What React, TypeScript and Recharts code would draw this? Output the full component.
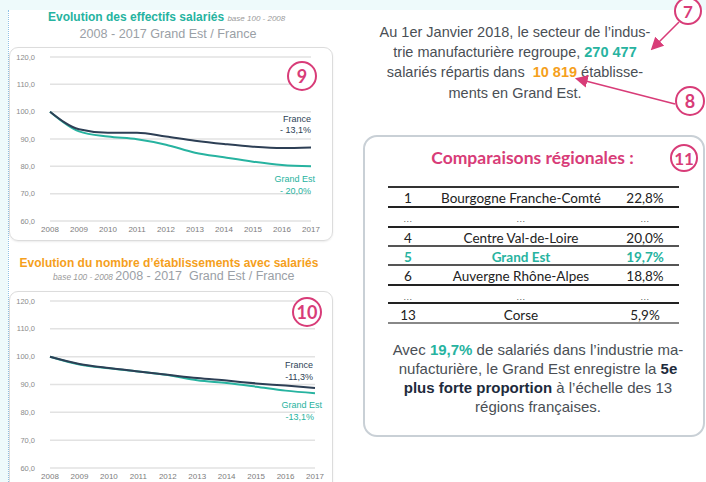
import React from "react";
import { CartesianGrid, Line, LineChart, XAxis, YAxis } from "recharts";

const years = ["2008", "2009", "2010", "2011", "2012", "2013", "2014", "2015", "2016", "2017"];
const yTicks = [60, 70, 80, 90, 100, 110, 120];

// base 100 - 2008
const effectifsFrance = [100, 93.6, 92.3, 92.3, 90.9, 89.4, 88.2, 87.2, 86.7, 86.9];
const effectifsGrandEst = [100, 92.8, 90.9, 89.9, 87.9, 85.0, 83.3, 81.7, 80.5, 80.0];
const etabFrance = [100, 97.4, 95.9, 94.7, 93.5, 92.3, 91.4, 90.4, 89.6, 88.7];
const etabGrandEst = [100, 97.2, 95.8, 94.7, 93.4, 91.5, 90.5, 89.2, 87.8, 86.9];

const ranks = ["1", "...", "4", "5", "6", "...", "13"];
const regions = [
  "Bourgogne Franche-Comté",
  "...",
  "Centre Val-de-Loire",
  "Grand Est",
  "Auvergne Rhône-Alpes",
  "...",
  "Corse",
];
const shares = ["22,8%", "...", "20,0%", "19,7%", "18,8%", "...", "5,9%"];

const TEAL = "#27b3a0";
const NAVY = "#2d3f55";
const ORANGE = "#f5a01c";
const PINK = "#d83c78";
const GREY_TXT = "#4a4f55";
const ARIAL = '"Liberation Sans", Arial, sans-serif';
const CALIBRI = 'Lato, "Open Sans", sans-serif';

const fmt = (v: number) => v.toFixed(1).replace(".", ",");

function TrendChart({
  top,
  height,
  width,
  margin,
  france,
  grandEst,
}: {
  top: number;
  height: number;
  width: number;
  margin: { top: number; right: number; bottom: number; left: number };
  france: number[];
  grandEst: number[];
}) {
  const data = years.map((y, i) => ({ year: y, france: france[i], grandEst: grandEst[i] }));
  return (
    <div style={{ position: "absolute", left: 0, top }}>
      <LineChart width={width} height={height} data={data} margin={margin}>
        <CartesianGrid vertical={false} stroke="#e2e2e2" strokeWidth={1.5} />
        <XAxis
          dataKey="year"
          axisLine={false}
          tickLine={false}
          tickSize={0}
          tickMargin={5}
          height={14}
          interval={0}
          tick={{ fill: "#7d7d7d", fontSize: 8, fontFamily: ARIAL }}
        />
        <YAxis
          domain={[60, 120]}
          ticks={yTicks}
          width={40}
          axisLine={false}
          tickLine={false}
          tickSize={0}
          tickMargin={15}
          tickFormatter={fmt}
          tick={{ fill: "#8a8a8a", fontSize: 7.5, fontFamily: ARIAL }}
        />
        <Line type="monotone" dataKey="grandEst" stroke={TEAL} strokeWidth={2} dot={false} isAnimationActive={false} />
        <Line type="monotone" dataKey="france" stroke={NAVY} strokeWidth={2} dot={false} isAnimationActive={false} />
      </LineChart>
    </div>
  );
}

function Badge({ x, y, r, label, size }: { x: number; y: number; r: number; label: string; size: number }) {
  return (
    <div
      style={{
        position: "absolute",
        left: x - r,
        top: y - r,
        width: r * 2 - 4,
        height: r * 2 - 4,
        border: `2px solid ${PINK}`,
        borderRadius: "50%",
        background: "#fff",
        color: PINK,
        fontFamily: CALIBRI,
        fontWeight: 700,
        fontSize: size,
        display: "flex",
        alignItems: "center",
        justifyContent: "center",
        lineHeight: 1,
      }}
    >
      {label}
    </div>
  );
}

function Abs({
  x,
  y,
  w,
  align = "left",
  style,
  children,
}: {
  x: number;
  y: number;
  w: number;
  align?: "left" | "center" | "right";
  style?: React.CSSProperties;
  children: React.ReactNode;
}) {
  return (
    <div
      style={{
        position: "absolute",
        left: x,
        top: y,
        width: w,
        textAlign: align,
        whiteSpace: "nowrap",
        fontFamily: ARIAL,
        ...style,
      }}
    >
      {children}
    </div>
  );
}

// table line positions (y) and thickness
const tableLines = [
  { y: 187, w: 1.5, c: "#333" },
  { y: 207, w: 2.5, c: "#222" },
  { y: 227, w: 2.5, c: "#222" },
  { y: 246, w: 1.5, c: "#555" },
  { y: 265, w: 1.5, c: "#555" },
  { y: 285, w: 2.5, c: "#222" },
  { y: 303, w: 2.5, c: "#222" },
  { y: 323, w: 1.5, c: "#888" },
];
const rowCenters = [198, 219, 238, 257, 276, 297, 315];

export default function App() {
  return (
    <div
      style={{
        position: "absolute",
        left: 0,
        top: 0,
        width: 706,
        height: 482,
        overflow: "hidden",
        background: "#fff",
        fontFamily: ARIAL,
      }}
    >
      {/* light background strips */}
      <div style={{ position: "absolute", left: 0, top: 0, width: 706, height: 10, background: "#eefafb" }} />
      <div style={{ position: "absolute", left: 0, top: 0, width: 8, height: 482, background: "#eefafb" }} />
      <div
        style={{ position: "absolute", left: 8, top: 10, width: 0, height: 472, borderLeft: "1px dotted #8fc3e6" }}
      />

      {/* chart 9 */}
      <Abs x={48} y={10} w={260} style={{ fontSize: 12, fontWeight: 700, color: TEAL }}>
        Evolution des effectifs salariés{" "}
        <span style={{ fontSize: 8, fontWeight: 400, fontStyle: "italic", color: "#9a9a9a" }}>base 100 - 2008</span>
      </Abs>
      <Abs x={0} y={27} w={336} align="center" style={{ fontSize: 12.6, color: "#9aa0a6" }}>
        2008 - 2017 Grand Est / France
      </Abs>
      <div
        style={{
          position: "absolute",
          left: 9,
          top: 47,
          width: 322,
          height: 192,
          border: "1px solid #dcdcdc",
          borderRadius: 9,
          boxShadow: "0 1px 2px rgba(0,0,0,0.08)",
        }}
      />
      <TrendChart
        top={0}
        width={340}
        height={245}
        margin={{ top: 57, right: 29, bottom: 10, left: 10 }}
        france={effectifsFrance}
        grandEst={effectifsGrandEst}
      />
      <Abs x={240} y={114} w={71} align="right" style={{ fontSize: 9, color: NAVY, lineHeight: "11px" }}>
        France
        <br />- 13,1%
      </Abs>
      <Abs x={240} y={173} w={75} align="right" style={{ fontSize: 9, color: TEAL, lineHeight: "12px" }}>
        Grand Est
        <br />
        <span style={{ marginRight: 4 }}>- 20,0%</span>
      </Abs>
      <Badge x={302} y={76} r={15} label="9" size={18} />

      {/* chart 10 */}
      <Abs x={0} y={256} w={338} align="center" style={{ fontSize: 12, fontWeight: 700, color: ORANGE }}>
        Evolution du nombre d’établissements avec salariés
      </Abs>
      <Abs x={53} y={269} w={280} style={{ fontSize: 12.5, color: "#9aa0a6" }}>
        <span style={{ fontSize: 8.3, fontStyle: "italic", color: "#9a9a9a" }}>base 100 - 2008 </span>2008 - 2017&nbsp;
        Grand Est / France
      </Abs>
      <div
        style={{
          position: "absolute",
          left: 9,
          top: 291,
          width: 322,
          height: 220,
          border: "1px solid #dcdcdc",
          borderRadius: 9,
          boxShadow: "0 1px 2px rgba(0,0,0,0.08)",
        }}
      />
      <TrendChart
        top={250}
        width={340}
        height={232}
        margin={{ top: 51, right: 25, bottom: 0, left: 10 }}
        france={etabFrance}
        grandEst={etabGrandEst}
      />
      <Abs x={240} y={359} w={73} align="right" style={{ fontSize: 9, color: NAVY, lineHeight: "12px" }}>
        France
        <br />
        -11,3%
      </Abs>
      <Abs x={240} y={399} w={82} align="right" style={{ fontSize: 9, color: TEAL, lineHeight: "12px" }}>
        Grand Est
        <br />
        <span style={{ marginRight: 8 }}>-13,1%</span>
      </Abs>
      <Badge x={307} y={312} r={15} label="10" size={18} />

      {/* intro text */}
      <div style={{ position: "absolute", left: 360, top: 24, width: 310, fontSize: 14.5, color: GREY_TXT }}>
        <Abs x={0} y={0} w={310} align="center">
          Au 1er Janvier 2018, le secteur de l’indus-
        </Abs>
        <Abs x={0} y={20} w={310} align="center">
          trie manufacturière regroupe, <b style={{ color: TEAL }}>270 477</b>
        </Abs>
        <Abs x={0} y={40} w={310} align="center">
          salariés répartis dans&nbsp; <b style={{ color: ORANGE }}>10 819</b> établisse-
        </Abs>
        <Abs x={0} y={61} w={310} align="center">
          ments en Grand Est.
        </Abs>
      </div>
      <Badge x={688} y={11} r={14} label="7" size={17} />
      <Badge x={690} y={101} r={15} label="8" size={18} />
      <svg style={{ position: "absolute", left: 0, top: 0 }} width={706} height={482}>
        <defs>
          <marker id="ah" markerWidth="8" markerHeight="8" refX="6" refY="4" orient="auto">
            <path d="M0,0 L8,4 L0,8 z" fill={PINK} />
          </marker>
        </defs>
        <line x1={679} y1={22} x2={653} y2={48} stroke={PINK} strokeWidth={1.6} markerEnd="url(#ah)" />
        <line x1={675} y1={104} x2={578} y2={79} stroke={PINK} strokeWidth={1.6} markerEnd="url(#ah)" />
      </svg>

      {/* comparaisons régionales */}
      <div
        style={{
          position: "absolute",
          left: 363,
          top: 135,
          width: 338,
          height: 298,
          border: "2px solid #c9d0d6",
          borderRadius: 14,
          background: "#fff",
        }}
      />
      <Abs x={380} y={147} w={305} align="center" style={{ fontFamily: CALIBRI, fontSize: 17.5, fontWeight: 700, color: PINK }}>
        Comparaisons régionales :
      </Abs>
      <Badge x={684} y={158} r={14} label="11" size={17} />
      {tableLines.map((l, i) => (
        <div
          key={i}
          style={{ position: "absolute", left: 388, top: l.y - l.w / 2, width: 291, height: l.w, background: l.c }}
        />
      ))}
      {ranks.map((r, i) => {
        const dots = r === "...";
        const hl = i === 3;
        const st: React.CSSProperties = {
          fontFamily: ARIAL,
          fontSize: 13.5,
          lineHeight: "14px",
          color: hl ? TEAL : "#222",
          fontWeight: hl ? 700 : 400,
        };
        const dotSt: React.CSSProperties = {
          fontFamily: ARIAL,
          fontSize: 9,
          lineHeight: "14px",
          color: "#555",
          letterSpacing: 0.5,
        };
        const cell = dots ? dotSt : { ...st, fontFamily: CALIBRI };
        const y = rowCenters[i] - 7;
        return (
          <React.Fragment key={i}>
            <Abs x={388} y={y} w={40} align="center" style={cell}>
              {r}
            </Abs>
            <Abs x={440} y={y} w={162} align="center" style={cell}>
              {regions[i]}
            </Abs>
            <Abs x={615} y={y} w={60} align="center" style={cell}>
              {shares[i]}
            </Abs>
          </React.Fragment>
        );
      })}
      <div style={{ position: "absolute", left: 380, top: 341, width: 316, fontSize: 15, color: GREY_TXT }}>
        <Abs x={0} y={0} w={316} align="center">
          Avec <b style={{ color: TEAL }}>19,7%</b> de salariés dans l’industrie ma-
        </Abs>
        <Abs x={0} y={19} w={316} align="center">
          nufacturière, le Grand Est enregistre la <b style={{ color: "#1e2b3c" }}>5e</b>
        </Abs>
        <Abs x={0} y={38} w={316} align="center">
          <b style={{ color: "#1e2b3c" }}>plus forte proportion</b> à l’échelle des 13
        </Abs>
        <Abs x={0} y={57} w={316} align="center">
          régions françaises.
        </Abs>
      </div>
    </div>
  );
}
